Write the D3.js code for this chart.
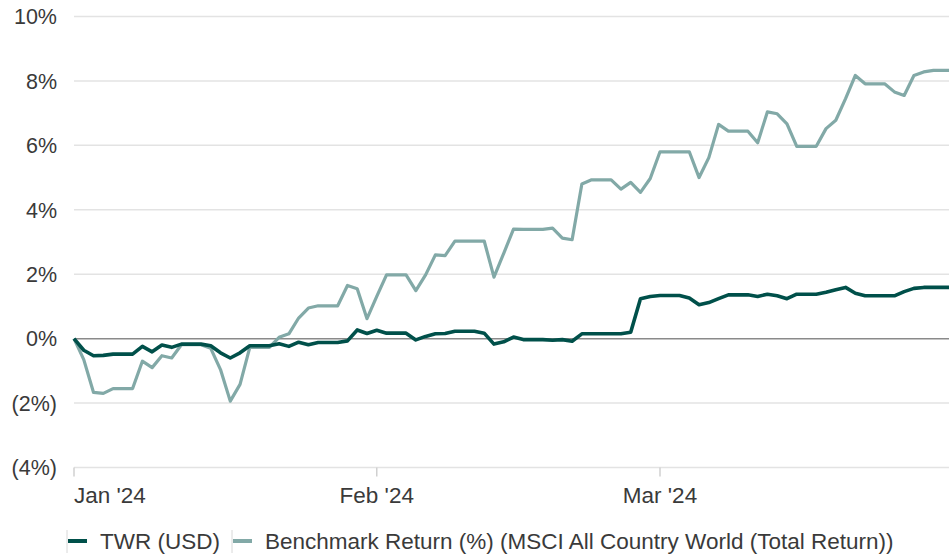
<!DOCTYPE html>
<html>
<head>
<meta charset="utf-8">
<script src="https://cdn.jsdelivr.net/npm/d3@7"></script>
<style>
  html, body { margin: 0; padding: 0; background: #fff; }
  svg { display: block; font-family: "Liberation Sans", Arial, sans-serif; }
</style>
</head>
<body>
<div id="chart"></div>
<script>
// Daily cumulative returns (%), weekends carry the last value
const twrJan = [0, -0.36, -0.53, -0.52, -0.48, -0.48, -0.48, -0.24, -0.41, -0.20, -0.27, -0.17, -0.17, -0.17, -0.22, -0.44,
  -0.60, -0.44, -0.22, -0.22, -0.22, -0.16, -0.24, -0.11, -0.19, -0.12, -0.12, -0.12, -0.07, 0.27, 0.16];
const twrFeb = [0.26, 0.17, 0.17, 0.17, -0.04, 0.07, 0.15, 0.16, 0.23, 0.23, 0.23, 0.17, -0.17, -0.10, 0.05, -0.03,
  -0.03, -0.03, -0.05, -0.03, -0.08, 0.15, 0.15, 0.15, 0.15, 0.15, 0.20, 1.24, 1.31];
const twrMar = [1.34, 1.34, 1.34, 1.26, 1.05, 1.12, 1.24, 1.36, 1.36, 1.36, 1.31, 1.38, 1.33, 1.24, 1.38, 1.38,
  1.38, 1.44, 1.52, 1.59, 1.41, 1.33, 1.33, 1.33, 1.33, 1.46, 1.56, 1.59, 1.59, 1.59, 1.59];

const benchJan = [0, -0.65, -1.67, -1.70, -1.55, -1.55, -1.55, -0.70, -0.90, -0.53, -0.60, -0.19, -0.19, -0.19, -0.30, -0.96,
  -1.94, -1.42, -0.27, -0.27, -0.27, 0.04, 0.15, 0.64, 0.95, 1.02, 1.02, 1.02, 1.65, 1.55, 0.62];
const benchFeb = [1.31, 1.98, 1.98, 1.98, 1.49, 1.98, 2.60, 2.58, 3.03, 3.03, 3.03, 3.03, 1.91, 2.65, 3.40, 3.39,
  3.39, 3.39, 3.43, 3.12, 3.07, 4.80, 4.93, 4.93, 4.93, 4.64, 4.85, 4.54, 4.97];
const benchMar = [5.80, 5.80, 5.80, 5.80, 5.00, 5.62, 6.65, 6.44, 6.44, 6.44, 6.08, 7.04, 6.98, 6.67, 5.97, 5.97,
  5.97, 6.52, 6.78, 7.45, 8.17, 7.91, 7.91, 7.91, 7.66, 7.55, 8.17, 8.28, 8.33, 8.33, 8.33];

const yTicks = [-4, -2, 0, 2, 4, 6, 8, 10];
const xTickDates = [new Date(2024, 0, 1), new Date(2024, 1, 1), new Date(2024, 2, 1)];
const seriesNames = ['TWR (USD)', 'Benchmark Return (%) (MSCI All Country World (Total Return))'];
const seriesColors = ['#00504a', '#82a9a7'];

const width = 949;
const height = 555;

const dates = d3.timeDay.range(new Date(2024, 0, 1), new Date(2024, 3, 1));
const twr = twrJan.concat(twrFeb, twrMar);
const bench = benchJan.concat(benchFeb, benchMar);

const svg = d3.select('#chart')
    .append('svg')
    .attr('width', width)
    .attr('height', height);

const x = d3.scaleTime()
    .domain([new Date(2024, 0, 1), new Date(2024, 2, 31)])
    .range([74, 953]);

const y = d3.scaleLinear()
    .domain([-4, 10])
    .range([467.5, 16.5]);

// Gridlines
svg.append('g')
    .selectAll('line')
    .data(yTicks.filter(d => d !== 0))
    .enter().append('line')
    .attr('x1', x.range()[0])
    .attr('x2', x.range()[1])
    .attr('y1', d => y(d))
    .attr('y2', d => y(d))
    .attr('stroke', '#e3e3e3')
    .attr('stroke-width', 1.5);

// Y labels
svg.append('g')
    .selectAll('text')
    .data(yTicks)
    .enter().append('text')
    .attr('x', 57)
    .attr('y', d => y(d))
    .attr('dy', '0.36em')
    .attr('text-anchor', 'end')
    .attr('fill', '#3a3a3a')
    .style('font-size', '21.5px')
    .text(d => d < 0 ? `(${-d}%)` : `${d}%`);

// X ticks
const xAxis = svg.append('g');
xAxis.selectAll('line')
    .data(xTickDates)
    .enter().append('line')
    .attr('x1', d => x(d))
    .attr('x2', d => x(d))
    .attr('y1', y(-4))
    .attr('y2', y(-4) + 9)
    .attr('stroke', '#d0d0d0')
    .attr('stroke-width', 1.5);

xAxis.selectAll('text')
    .data(xTickDates)
    .enter().append('text')
    .attr('x', d => x(d))
    .attr('y', 503)
    .attr('text-anchor', (d, i) => i === 0 ? 'start' : 'middle')
    .attr('fill', '#3a3a3a')
    .style('font-size', '22.5px')
    .text(d => d3.timeFormat("%b '%y")(d));

// Zero line
svg.append('line')
    .attr('x1', x.range()[0])
    .attr('x2', x.range()[1])
    .attr('y1', y(0))
    .attr('y2', y(0))
    .attr('stroke', '#8a8a8a')
    .attr('stroke-width', 1.5);

// Lines
const line = d3.line()
    .x(d => x(d[0]))
    .y(d => y(d[1]));

svg.append('path')
    .datum(d3.zip(dates, bench))
    .attr('fill', 'none')
    .attr('stroke', seriesColors[1])
    .attr('stroke-width', 3.2)
    .attr('stroke-linejoin', 'round')
    .attr('d', line);

svg.append('path')
    .datum(d3.zip(dates, twr))
    .attr('fill', 'none')
    .attr('stroke', seriesColors[0])
    .attr('stroke-width', 3.6)
    .attr('stroke-linejoin', 'round')
    .attr('d', line);

// Legend
const legendX = [67, 232];
const legend = svg.append('g')
    .selectAll('g')
    .data(seriesNames)
    .enter().append('g')
    .attr('transform', (d, i) => `translate(${legendX[i]},541)`);

legend.append('line')
    .attr('x1', 0).attr('x2', 0)
    .attr('y1', -11).attr('y2', 12)
    .attr('stroke', '#d8d8d8')
    .attr('stroke-width', 1);

legend.append('line')
    .attr('x1', 1).attr('x2', 20)
    .attr('y1', 0).attr('y2', 0)
    .attr('stroke', (d, i) => seriesColors[i])
    .attr('stroke-width', 4);

legend.append('text')
    .attr('x', 33)
    .attr('dy', '0.36em')
    .attr('fill', '#3a3a3a')
    .style('font-size', '22.5px')
    .text(d => d);
</script>
</body>
</html>
